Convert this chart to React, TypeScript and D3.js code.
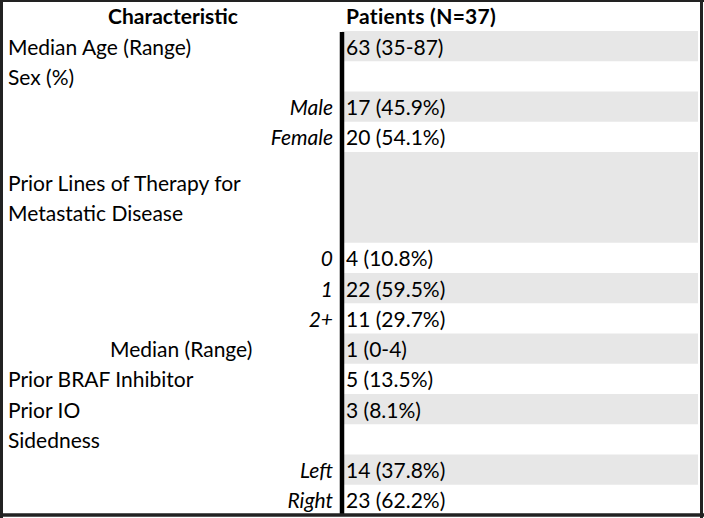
import React from "react";
import * as d3 from "d3";

const headers = ["Characteristic", "Patients (N=37)"];
const labels = [
  "Median Age (Range)",
  "Sex (%)",
  "Male",
  "Female",
  "Prior Lines of Therapy for|Metastatic Disease",
  "0",
  "1",
  "2+",
  "Median (Range)",
  "Prior BRAF Inhibitor",
  "Prior IO",
  "Sidedness",
  "Left",
  "Right",
];
const values = [
  "63 (35-87)",
  "",
  "17 (45.9%)",
  "20 (54.1%)",
  "",
  "4 (10.8%)",
  "22 (59.5%)",
  "11 (29.7%)",
  "1 (0-4)",
  "5 (13.5%)",
  "3 (8.1%)",
  "",
  "14 (37.8%)",
  "23 (62.2%)",
];
// kind of label: "main" | "sub" (italic right aligned) | "mid" (indented)
const kinds = ["main", "main", "sub", "sub", "main", "sub", "sub", "sub", "mid", "main", "main", "main", "sub", "sub"];
const spans = [1, 1, 1, 1, 3, 1, 1, 1, 1, 1, 1, 1, 1, 1];

const W = 704;
const H = 518;
const FONT = "Lato, 'Open Sans', sans-serif";

export default function App() {
  const totalUnits = d3.sum(spans);
  const y = d3.scaleLinear().domain([0, totalUnits]).range([31, 515]);
  const starts = d3.cumsum([0, ...spans]);
  const fs = 21;
  const divX = 342;
  const rows = labels.map((lab, i) => {
    const y0 = y(starts[i]);
    const y1 = y(starts[i] + spans[i]);
    return { lab, val: values[i], kind: kinds[i], y0, y1, i };
  });

  return (
    <svg
      width={W}
      height={H}
      style={{ position: "fixed", left: 0, top: 0, background: "#fff" }}
      fontFamily={FONT}
    >
      <rect x={0} y={0} width={W} height={H} fill="#fff" />
      {rows.map((r) =>
        r.i % 2 === 0 ? (
          <rect key={"bg" + r.i} x={divX} y={r.y0} width={698 - divX} height={r.y1 - r.y0} fill="#e7e7e7" />
        ) : null
      )}
      <text x={173} y={24} textAnchor="middle" fontWeight="bold" fontSize={fs} fill="#000">
        {headers[0]}
      </text>
      <text x={346} y={24} fontWeight="bold" fontSize={fs} letterSpacing={0.3} fill="#000">
        {headers[1]}
      </text>
      {rows.map((r) => {
        const mid = (r.y0 + r.y1) / 2;
        const lines = r.lab.split("|");
        const lh = 30;
        return (
          <g key={"r" + r.i}>
            {lines.map((ln, j) => {
              const by = mid + 8.5 + (j - (lines.length - 1) / 2) * lh;
              if (r.kind === "sub")
                return (
                  <text key={j} x={333} y={by} textAnchor="end" fontStyle="italic" fontSize={fs} fill="#000">
                    {ln}
                  </text>
                );
              if (r.kind === "mid")
                return (
                  <text key={j} x={110} y={by} fontSize={fs} fill="#000">
                    {ln}
                  </text>
                );
              return (
                <text key={j} x={8} y={by} fontSize={fs} fill="#000">
                  {ln}
                </text>
              );
            })}
            {r.val ? (
              <text x={346} y={mid + 8.5} fontSize={fs} fill="#000">
                {r.val}
              </text>
            ) : null}
          </g>
        );
      })}
      <line x1={divX} x2={divX} y1={32} y2={515} stroke="#000" strokeWidth={4.5} />
      <line x1={0} x2={W} y1={1} y2={1} stroke="#222" strokeWidth={2} />
      <line x1={1.5} x2={1.5} y1={0} y2={H} stroke="#222" strokeWidth={3} />
      <line x1={701.5} x2={701.5} y1={0} y2={H} stroke="#222" strokeWidth={3} />
      <line x1={0} x2={W} y1={515} y2={515} stroke="#222" strokeWidth={3.5} />
    </svg>
  );
}
